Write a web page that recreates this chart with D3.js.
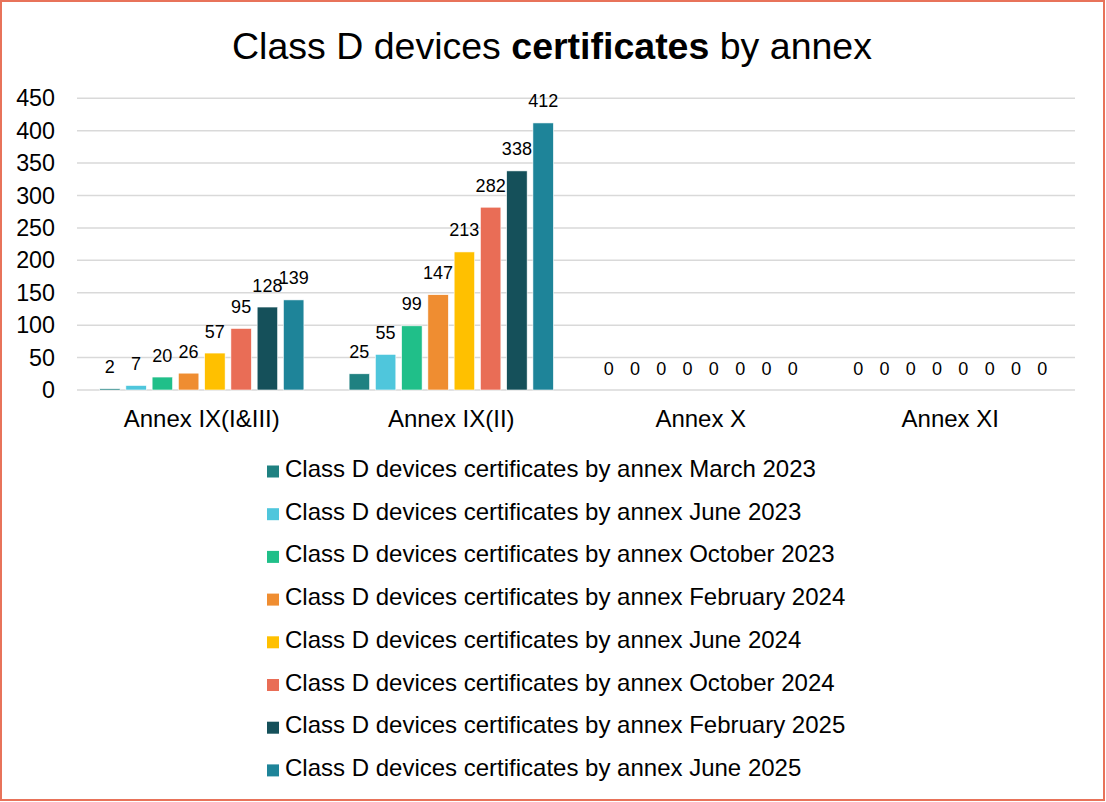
<!DOCTYPE html>
<html><head><meta charset="utf-8">
<script src="https://cdn.jsdelivr.net/npm/d3@7"></script>
<style>body{margin:0;background:#fff;} text{font-family:"Liberation Sans",Arial,sans-serif;}</style>
</head><body><svg id="c" width="1106" height="802"></svg>
<script>
const categories = ["Annex IX(I&III)", "Annex IX(II)", "Annex X", "Annex XI"];
const seriesNames = ["March 2023","June 2023","October 2023","February 2024","June 2024","October 2024","February 2025","June 2025"];
const seriesColors = ["#1F8181","#4FC6DC","#20BF89","#EF8D31","#FFC000","#E96D56","#15505A","#1E8499"];
const mar2023 = [2, 25, 0, 0];
const jun2023 = [7, 55, 0, 0];
const oct2023 = [20, 99, 0, 0];
const feb2024 = [26, 147, 0, 0];
const jun2024 = [57, 213, 0, 0];
const oct2024 = [95, 282, 0, 0];
const feb2025 = [128, 338, 0, 0];
const jun2025 = [139, 412, 0, 0];
const seriesValues = [mar2023, jun2023, oct2023, feb2024, jun2024, oct2024, feb2025, jun2025];
const yTicks = [0,50,100,150,200,250,300,350,400,450];

(function(){
const svg = d3.select("#c");
svg.append("rect").attr("x",1).attr("y",1).attr("width",1103).attr("height",799)
  .attr("fill","#fff").attr("stroke","#E8735A").attr("stroke-width",2);

const title = svg.append("text").attr("x",552).attr("y",59).attr("text-anchor","middle")
  .attr("font-size",37.5).attr("fill","#000");
title.append("tspan").text("Class D devices ");
title.append("tspan").attr("font-weight","bold").text("certificates");
title.append("tspan").text(" by annex");

const pLeft = 77, pRight = 1075, pTop = 98.3, pBottom = 390;
const x0 = d3.scaleBand().domain(categories).range([pLeft, pRight]).paddingInner(0).paddingOuter(0);
const y = d3.scaleLinear().domain([0,450]).range([pBottom, pTop]);
const groupW = 204.3;
const x1 = d3.scaleBand().domain(d3.range(seriesNames.length)).range([0, groupW]).paddingInner(0.22);
const groupOffset = (x0.bandwidth() - groupW)/2;

svg.append("g").selectAll("line").data(yTicks).join("line")
  .attr("x1",pLeft).attr("x2",pRight).attr("y1",d=>y(d)).attr("y2",d=>y(d))
  .attr("stroke","#D9D9D9").attr("stroke-width",1.5);

const yAxis = svg.append("g").attr("transform",`translate(${pLeft-22},0)`)
  .call(d3.axisLeft(y).tickValues(yTicks).tickSize(0).tickPadding(0));
yAxis.select(".domain").remove();
yAxis.selectAll("text").attr("font-size",23.3).attr("fill","#000").attr("font-family","Liberation Sans, Arial, sans-serif");

const xAxis = svg.append("g").attr("transform",`translate(0,${pBottom})`)
  .call(d3.axisBottom(x0).tickSize(0).tickPadding(20));
xAxis.select(".domain").remove();
xAxis.selectAll("text").attr("font-size",24).attr("fill","#000").attr("font-family","Liberation Sans, Arial, sans-serif");

const groups = svg.append("g").selectAll("g").data(categories).join("g")
  .attr("transform", c => `translate(${x0(c)+groupOffset},0)`);
groups.each(function(c, ci){
  const g = d3.select(this);
  seriesValues.forEach((vals, si) => {
    const v = vals[ci];
    if (v > 0) {
      g.append("rect").attr("x", x1(si)).attr("width", x1.bandwidth())
        .attr("y", y(v)).attr("height", y(0)-y(v))
        .attr("fill", seriesColors[si]).attr("stroke","#fff").attr("stroke-width",0.6);
    }
    g.append("text").attr("x", x1(si)+x1.bandwidth()/2).attr("y", y(v)-15.5)
      .attr("text-anchor","middle").attr("font-size",18).attr("fill","#000").text(v);
  });
});

const legend = svg.append("g");
seriesNames.forEach((n, i) => {
  const base = 477 + i*42.7;
  legend.append("rect").attr("x",267).attr("y",base-11.5).attr("width",12).attr("height",12).attr("fill",seriesColors[i]);
  legend.append("text").attr("x",285).attr("y",base).attr("font-size",24).attr("fill","#000")
    .text("Class D devices certificates by annex " + n);
});
})();
</script></body></html>
